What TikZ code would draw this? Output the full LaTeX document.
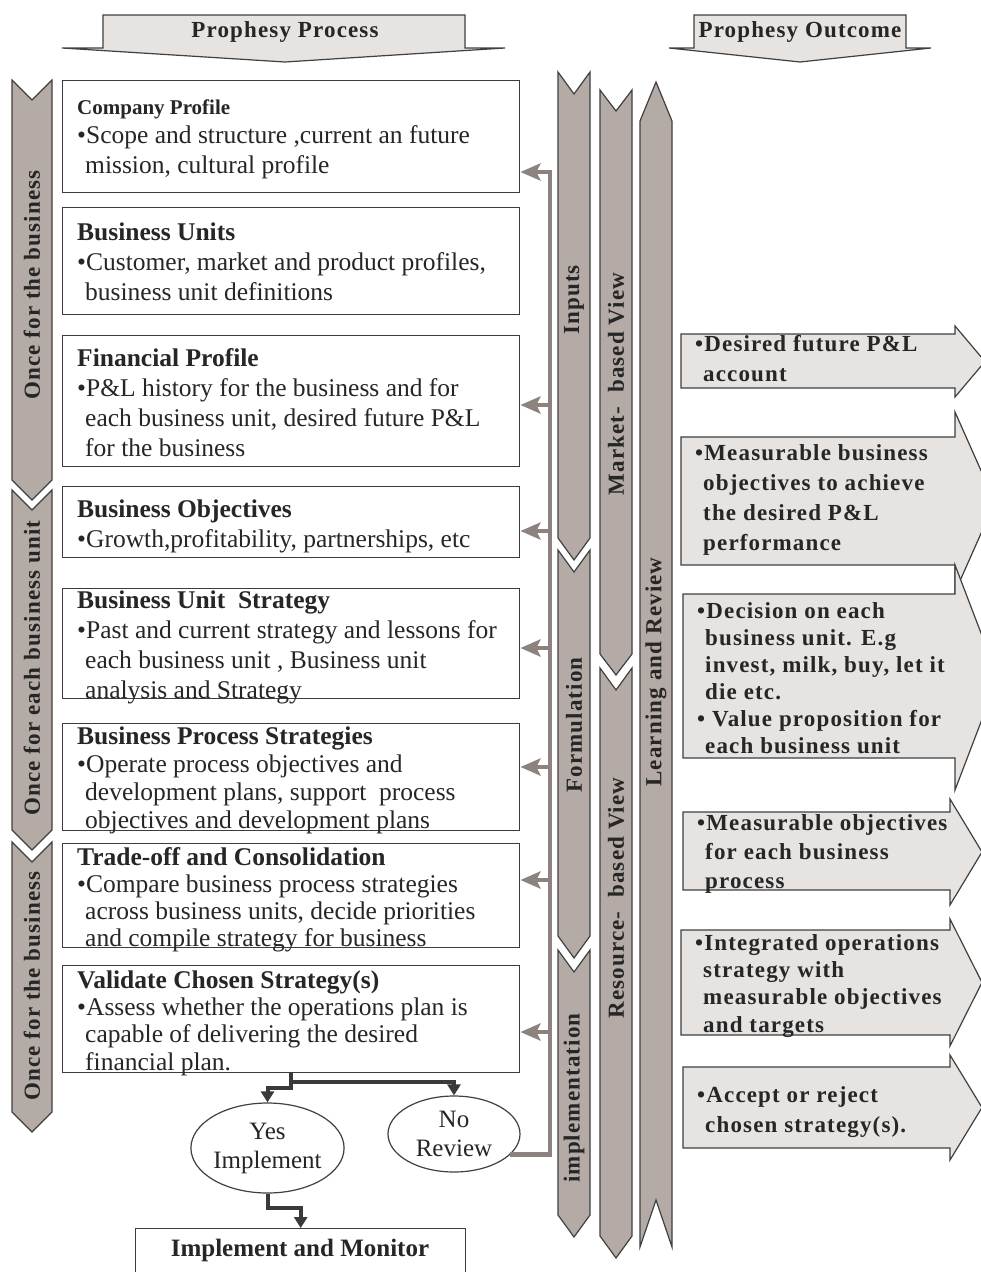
\documentclass[tikz,border=0pt]{standalone}
\usepackage{fontspec}
\setmainfont{Liberation Serif}
\newfontfamily\spaced{Liberation Serif}[LetterSpace=5]
\usetikzlibrary{shapes.geometric,arrows.meta}
\definecolor{chevfill}{HTML}{B4AAA6}
\definecolor{chevline}{HTML}{404040}
\definecolor{lightfill}{HTML}{E6E3E1}
\definecolor{fbcol}{HTML}{8E827E}
\definecolor{txtcol}{HTML}{262626}
\definecolor{boxline}{HTML}{3C3C3C}
\definecolor{darkline}{HTML}{3A3A3A}
\newcommand\ind{\hspace*{8pt}}
\newcommand\dchev[5]{\path[chev] (#1,#3) -- ({(#1+#2)/2},{#3+#5}) -- (#2,#3) -- (#2,{#4-#5}) -- ({(#1+#2)/2},#4) -- (#1,{#4-#5}) -- cycle;}
\newcommand\rarr[7]{\path[rarrow] (#1,#3) -- (#2,#3) -- (#2,#5) -- (#7,{(#5+#6)/2}) -- (#2,#6) -- (#2,#4) -- (#1,#4) -- cycle;}
\tikzset{
 chev/.style={fill=chevfill, draw=chevline, line width=1.2pt, line join=miter},
 rarrow/.style={fill=lightfill, draw=chevline, line width=1.2pt},
 lbox/.style={draw=boxline, line width=1.4pt, fill=white, inner sep=0pt, anchor=north west},
 ltxt/.style={anchor=base west, align=left, inner sep=0pt, text=txtcol},
 rtxt/.style={anchor=base west, align=left, inner sep=0pt, text=txtcol},
 htxt/.style={inner sep=0pt, text=txtcol, font=\spaced\bfseries\fontsize{23}{28}\selectfont},
 vtxt/.style={rotate=90, inner sep=0pt, text=txtcol, font=\spaced\bfseries\fontsize{23}{28}\selectfont},
 fbline/.style={draw=fbcol, line width=4.5pt},
 fbarrow/.style={fbline, -{Stealth[length=20pt,width=17pt,inset=4pt]}},
 dk/.style={draw=darkline, line width=4pt, -{Triangle[length=11pt,width=13pt]}},
 ell/.style={ellipse, draw=chevline, line width=1.2pt, inner sep=0pt, align=center, font=\fontsize{25}{29}\selectfont, text=txtcol},
}
\begin{document}
\begin{tikzpicture}[x=1pt,y=-1pt]
\useasboundingbox[fill=white] (0,0) rectangle (981,1272);

% headers
\path[rarrow] (103,15) -- (465,15) -- (465,48) -- (505,48) -- (285,62) -- (62,48) -- (103,48) -- cycle;
\node[htxt] (hp) at (285,32) {Prophesy Process};
\path[rarrow] (694,15) -- (906,15) -- (906,48) -- (931,48) -- (800,62) -- (669,48) -- (694,48) -- cycle;
\node[htxt] (ho) at (800,32) {Prophesy Outcome};

% left chevrons
\dchev{12}{52}{80}{500}{20}
\dchev{12}{52}{490}{850}{20}
\dchev{12}{52}{842}{1132}{20}
\node[vtxt] (c1t) at (32,285) {Once for the business};
\node[vtxt] (c2t) at (32,668) {Once for each business unit};
\node[vtxt] (c3t) at (32,986) {Once for the business};

% centre chevrons
\dchev{558}{590}{72}{560}{22}
\dchev{558}{590}{550}{958}{22}
\dchev{558}{590}{950}{1237}{22}
\dchev{600}{632}{90}{675}{21}
\dchev{600}{632}{668}{1258}{22}
\path[chev] (640,121) -- (656,82) -- (672,121) -- (672,1247) -- (656,1200) -- (640,1247) -- cycle;
\begin{scope}[every node/.append style={font=\spaced\bfseries\fontsize{24}{28}\selectfont}]
\node[vtxt] (inp) at (574,300) {Inputs};
\node[vtxt] (frm) at (574,725) {Formulation};
\node[vtxt] (imp) at (574,1098) {implementation};
\node[vtxt] (mkt) at (616,384) {Market- \ based View};
\node[vtxt] (res) at (616,898) {Resource- \ based View};
\node[vtxt] (lrn) at (656,672) {Learning and Review};
\end{scope}

% left boxes
\node[lbox, minimum width=457pt, minimum height=112pt] (cp) at (62,80) {};
\node[lbox, minimum width=457pt, minimum height=107pt] (bu) at (62,207) {};
\node[lbox, minimum width=457pt, minimum height=131pt] (fp) at (62,335) {};
\node[lbox, minimum width=457pt, minimum height=71pt] (bo) at (62,486) {};
\node[lbox, minimum width=457pt, minimum height=110pt] (bus) at (62,588) {};
\node[lbox, minimum width=457pt, minimum height=107pt] (bps) at (62,723) {};
\node[lbox, minimum width=457pt, minimum height=104pt] (tc) at (62,843) {};
\node[lbox, minimum width=457pt, minimum height=107pt] (vcs) at (62,965) {};

\node[ltxt, font=\fontsize{25.5}{29.5}\selectfont] (cpt) at (77,173) {{\bfseries\fontsize{21}{29.5}\selectfont Company Profile}\\ •Scope and structure ,current an future\\ \ind mission, cultural profile};
\node[ltxt, font=\fontsize{25.5}{30}\selectfont] (but) at (77,300) {\textbf{Business Units}\\ •Customer, market and product profiles,\\ \ind business unit definitions};
\node[ltxt, font=\fontsize{25.5}{30}\selectfont] (fpt) at (77,456) {\textbf{Financial Profile}\\ •P\&L history for the business and for\\ \ind each business unit, desired future P\&L\\ \ind for the business};
\node[ltxt, font=\fontsize{25.5}{30}\selectfont] (bot) at (77,547) {\textbf{Business Objectives}\\ •Growth,profitability, partnerships, etc};
\node[ltxt, font=\fontsize{25.5}{29.7}\selectfont] (bust) at (77,698) {\textbf{Business Unit \ Strategy}\\ •Past and current strategy and lessons for\\ \ind each business unit , Business unit\\ \ind analysis and Strategy};
\node[ltxt, font=\fontsize{25.5}{27.7}\selectfont] (bpst) at (77,828) {\textbf{Business Process Strategies}\\ •Operate process objectives and\\ \ind development plans, support \ process\\ \ind objectives and development plans};
\node[ltxt, font=\fontsize{25.5}{27}\selectfont] (tct) at (77,946) {\textbf{Trade-off and Consolidation}\\ •Compare business process strategies\\ \ind across business units, decide priorities\\ \ind and compile strategy for business};
\node[ltxt, font=\fontsize{25.5}{27.3}\selectfont] (vcst) at (77,1070) {\textbf{Validate Chosen Strategy(s)}\\ •Assess whether the operations plan is\\ \ind capable of delivering the desired\\ \ind financial plan.};

% feedback line
\node[ell, minimum width=132pt, minimum height=76pt] (no) at (454,1134) {No\\Review};
\node[ell, minimum width=131pt, minimum height=90pt] (yes) at (267.5,1148) {Yes\\Implement};
\coordinate (fbtop) at (550,172);
\draw[fbarrow] (no.-20) -| (fbtop) -- (cp.east |- fbtop);
\draw[fbarrow] (fbtop |- 0,405) -- (fp.east |- 0,405);
\draw[fbarrow] (fbtop |- 0,531) -- (bo.east |- 0,531);
\draw[fbarrow] (fbtop |- 0,648) -- (bus.east |- 0,648);
\draw[fbarrow] (fbtop |- 0,767) -- (bps.east |- 0,767);
\draw[fbarrow] (fbtop |- 0,880) -- (tc.east |- 0,880);
\draw[fbarrow] (fbtop |- 0,1032) -- (vcs.east |- 0,1032);

% decision connectors
\node[lbox, minimum width=330pt, minimum height=60pt] (im) at (135,1228) {};
\node[inner sep=0pt, text=txtcol, font=\bfseries\fontsize{25}{28}\selectfont] (imt) at (300,1250) {Implement and Monitor};
\draw[dk] (vcs.south) -- ++(0,9) -| (no.north);
\draw[dk] (vcs.south) -- ++(0,15) -| (yes.north);
\draw[dk] (yes.south) -- ++(0,14) -| (im.north);

% outcome arrows
\rarr{681}{955}{334}{388}{326}{397}{985}
\rarr{681}{955}{437}{565}{412}{592}{995}
\rarr{683}{955}{594}{758}{565}{790}{998}
\rarr{683}{950}{812}{890}{799}{905}{982}
\rarr{681}{950}{930}{1035}{919}{1046}{982}
\rarr{683}{950}{1067}{1148}{1055}{1160}{982}
\begin{scope}[every node/.style={rtxt, font=\spaced\bfseries\fontsize{23}{30}\selectfont}]
\node (o1) at (695,381) {•Desired future P\&L\\ \ind account};
\node (o2) at (695,550) {•Measurable business\\ \ind objectives to achieve\\ \ind the desired P\&L\\ \ind performance};
\node[font=\spaced\bfseries\fontsize{23}{27}\selectfont] (o3) at (697,753) {•Decision on each\\ \ind business unit. E.g\\ \ind invest, milk, buy, let it\\ \ind die etc.\\ • Value proposition for\\ \ind each business unit};
\node[font=\spaced\bfseries\fontsize{23}{29}\selectfont] (o4) at (697,888) {•Measurable objectives\\ \ind for each business\\ \ind process};
\node[font=\spaced\bfseries\fontsize{23}{27.3}\selectfont] (o5) at (695,1032) {•Integrated operations\\ \ind strategy with\\ \ind measurable objectives\\ \ind and targets};
\node (o6) at (697,1132) {•Accept or reject\\ \ind chosen strategy(s).};
\end{scope}
\end{tikzpicture}
\end{document}
